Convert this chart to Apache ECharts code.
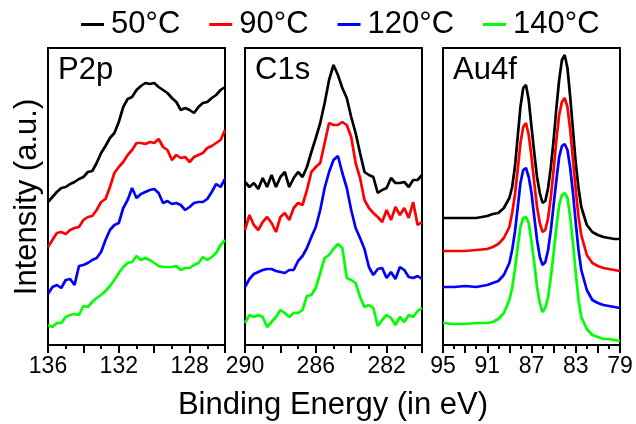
<!DOCTYPE html>
<html>
<head>
<meta charset="utf-8">
<script src="https://cdn.jsdelivr.net/npm/echarts@6/dist/echarts.min.js"></script>
<style>
  html, body { margin: 0; padding: 0; background: #fff; }
  #chart { width: 636px; height: 424px; }
</style>
</head>
<body>
<div id="chart"></div>
<script>
// legend names / colours
const temps = ['50°C', '90°C', '120°C', '140°C']
const colors = ['#000000', '#ff0000', '#0000ff', '#00ff00']

// P2p panel (binding energy, eV)
const xP2p = [136, 135.75, 135.5, 135.25, 135, 134.75, 134.5, 134.25, 134, 133.75, 133.5, 133.25, 133, 132.75, 132.5, 132.25, 132, 131.75, 131.5, 131.25, 131, 130.75, 130.5, 130.25, 130, 129.75, 129.5, 129.25, 129, 128.75, 128.5, 128.25, 128, 127.75, 127.5, 127.25, 127, 126.75, 126.5, 126.25, 126]
const p2p50 = [143, 148, 153, 157, 158, 161, 163, 166, 168, 173, 174, 182, 192, 199, 207, 212, 223, 238, 246, 248, 255, 259, 262, 261, 262, 258, 255, 252, 247, 243, 235, 237, 235, 232, 238, 242, 243, 247, 250, 255, 258]
const p2p90 = [98, 105, 112, 113, 111, 115, 117, 118, 125, 128, 129, 135, 143, 146, 158, 172, 178, 183, 190, 195, 202, 202, 201, 203, 202, 206, 198, 195, 185, 190, 187, 188, 183, 188, 190, 192, 197, 199, 202, 205, 215]
const p2p120 = [51, 58, 60, 57, 65, 66, 60, 79, 80, 82, 85, 87, 93, 105, 115, 120, 122, 137, 145, 157, 147, 151, 153, 155, 156, 152, 142, 144, 141, 142, 140, 135, 138, 142, 143, 143, 146, 153, 161, 158, 166]
const p2p140 = [20, 18, 22, 22, 28, 30, 31, 30, 39, 38, 43, 47, 50, 54, 59, 65, 72, 78, 82, 83, 89, 85, 87, 85, 82, 79, 78, 78, 78, 79, 75, 77, 77, 80, 82, 88, 85, 88, 92, 100, 105]

// C1s panel
const xC1s = [290, 289.75, 289.5, 289.25, 289, 288.75, 288.5, 288.25, 288, 287.75, 287.5, 287.25, 287, 286.75, 286.5, 286.25, 286, 285.75, 285.5, 285.25, 285, 284.75, 284.5, 284.25, 284, 283.75, 283.5, 283.25, 283, 282.75, 282.5, 282.25, 282, 281.75, 281.5, 281.25, 281, 280.75, 280.5, 280.25, 280]
const c1s50 = [163, 158, 162, 156, 167, 158, 170, 158, 168, 173, 158, 167, 173, 168, 178, 193, 207, 222, 242, 265, 280, 270, 257, 247, 228, 212, 192, 173, 170, 168, 152, 155, 157, 167, 162, 162, 163, 158, 165, 165, 170]
const c1s90 = [115, 130, 120, 115, 123, 128, 122, 113, 128, 132, 125, 137, 142, 140, 155, 173, 178, 182, 202, 222, 220, 220, 223, 220, 208, 182, 167, 145, 137, 132, 128, 123, 135, 125, 138, 130, 137, 127, 143, 120, 123]
const c1s120 = [58, 66, 71, 73, 75, 76, 76, 74, 73, 72, 75, 75, 84, 89, 97, 108, 118, 135, 157, 173, 185, 189, 172, 157, 135, 117, 107, 96, 78, 70, 76, 77, 67, 73, 66, 78, 75, 68, 67, 69, 66]
const c1s140 = [22, 30, 28, 30, 28, 18, 23, 28, 35, 32, 28, 32, 32, 35, 49, 50, 57, 72, 87, 90, 96, 101, 97, 67, 65, 62, 48, 38, 40, 37, 19, 25, 30, 27, 20, 28, 23, 30, 28, 34, 37]

// Au4f panel
const xAu4f = [95, 94, 93, 92, 91, 90.5, 90, 89.5, 89, 88.75, 88.5, 88.25, 88, 87.75, 87.5, 87.25, 87, 86.75, 86.5, 86.25, 86, 85.75, 85.5, 85.25, 85, 84.75, 84.5, 84.25, 84, 83.75, 83.5, 83.25, 83, 82.75, 82.5, 82, 81.5, 81, 80.5, 80, 79.5, 79]
const au50 = [127, 127, 127, 127, 129, 131, 132, 137, 147, 158, 178, 208, 238, 257, 260, 245, 218, 192, 168, 152, 142, 144, 157, 178, 205, 237, 265, 285, 290, 277, 248, 215, 182, 157, 138, 120, 113, 110, 108, 107, 106, 106]
const au90 = [94, 94, 94, 95, 96, 98, 101, 107, 118, 132, 150, 175, 202, 218, 222, 210, 188, 162, 138, 122, 113, 115, 127, 148, 175, 205, 230, 243, 247, 238, 215, 185, 155, 128, 110, 90, 82, 79, 77, 76, 75, 74]
const au120 = [58, 58, 59, 58, 60, 62, 64, 70, 82, 95, 113, 137, 162, 175, 177, 168, 152, 128, 105, 88, 80, 83, 95, 115, 140, 165, 188, 199, 201, 195, 177, 152, 122, 95, 75, 55, 45, 42, 40, 39, 38, 37]
const au140 = [22, 21, 21, 22, 22, 23, 26, 32, 45, 57, 75, 98, 118, 127, 128, 122, 103, 82, 58, 42, 33, 37, 48, 68, 92, 118, 140, 150, 152, 147, 128, 102, 72, 45, 28, 16, 10, 8, 6, 6, 5, 4]

// ticks
const ticksP2p = [136, 134, 132, 130, 128, 126]
const minorP2p = [135, 133, 131, 129, 127]
const labelsP2p = [136, 132, 128]
const ticksC1s = [290, 288, 286, 284, 282, 280]
const minorC1s = [289, 287, 285, 283, 281]
const labelsC1s = [290, 286, 282]
const ticksAu4f = [95, 93, 91, 89, 87, 85, 83, 81, 79]
const minorAu4f = [94, 92, 90, 88, 86, 84, 82, 80]
const labelsAu4f = [95, 91, 87, 83, 79]

const panels = [
  { title: 'P2p', left: 48, min: 126, max: 136, x: xP2p, ys: [p2p50, p2p90, p2p120, p2p140], ticks: ticksP2p, minor: minorP2p, labels: labelsP2p },
  { title: 'C1s', left: 245, min: 280, max: 290, x: xC1s, ys: [c1s50, c1s90, c1s120, c1s140], ticks: ticksC1s, minor: minorC1s, labels: labelsC1s },
  { title: 'Au4f', left: 443, min: 79, max: 95, x: xAu4f, ys: [au50, au90, au120, au140], ticks: ticksAu4f, minor: minorAu4f, labels: labelsAu4f }
]

const font = 'Liberation Sans, Arial, sans-serif'
const grid = []
const xAxis = []
const yAxis = []
const series = []
const title = []

panels.forEach((p, i) => {
  grid.push({ left: p.left, top: 48, width: 177, height: 297, show: true, borderColor: '#000', borderWidth: 2, backgroundColor: 'transparent' })
  // major ticks + labels
  xAxis.push({
    type: 'value', gridIndex: i, min: p.min, max: p.max, inverse: true, position: 'bottom',
    axisLine: { show: true, onZero: false, lineStyle: { color: '#000', width: 2 } },
    axisTick: { show: true, length: 8, lineStyle: { color: '#000', width: 2 }, customValues: p.ticks },
    axisLabel: { show: true, margin: 10, color: '#000', fontSize: 23, fontFamily: font, customValues: p.labels },
    splitLine: { show: false }
  })
  // minor ticks
  xAxis.push({
    type: 'value', gridIndex: i, min: p.min, max: p.max, inverse: true, position: 'bottom',
    axisLine: { show: false, onZero: false },
    axisTick: { show: true, length: 4, lineStyle: { color: '#000', width: 2 }, customValues: p.minor },
    axisLabel: { show: false },
    splitLine: { show: false }
  })
  yAxis.push({
    type: 'value', gridIndex: i, min: 0, max: 297,
    axisLine: { show: true, lineStyle: { color: '#000', width: 2 } },
    axisTick: { show: false }, axisLabel: { show: false }, splitLine: { show: false }
  })
  title.push({
    text: p.title, left: p.left + 5, top: 50,
    textStyle: { fontSize: 31, fontWeight: 'normal', color: '#000', fontFamily: font }
  })
  p.ys.forEach((ys, k) => {
    series.push({
      name: temps[k], type: 'line', xAxisIndex: i * 2, yAxisIndex: i,
      data: p.x.map((x, j) => [x, ys[j]]),
      symbol: 'none', color: colors[k],
      lineStyle: { width: 2.7, color: colors[k] },
      clip: true, animation: false
    })
  })
})

const myChart = echarts.init(document.getElementById('chart'))
const option = {
  backgroundColor: '#fff',
  animation: false,
  title: title,
  legend: {
    data: temps, left: 76, top: 4, icon: 'rect', itemWidth: 23, itemHeight: 3, itemGap: 29,
    textStyle: { fontSize: 31, color: '#000', fontFamily: font, padding: [0, 0, 0, 2] }
  },
  grid: grid,
  xAxis: xAxis,
  yAxis: yAxis,
  series: series,
  graphic: [
    {
      type: 'text', x: 27, y: 197, rotation: Math.PI / 2,
      style: { text: 'Intensity (a.u.)', fontSize: 31, fontFamily: font, fill: '#000', align: 'center', verticalAlign: 'middle' }
    },
    {
      type: 'text', x: 333, y: 405,
      style: { text: 'Binding Energy (in eV)', fontSize: 31, fontFamily: font, fill: '#000', align: 'center', verticalAlign: 'middle' }
    }
  ]
}
myChart.setOption(option)
</script>
</body>
</html>
